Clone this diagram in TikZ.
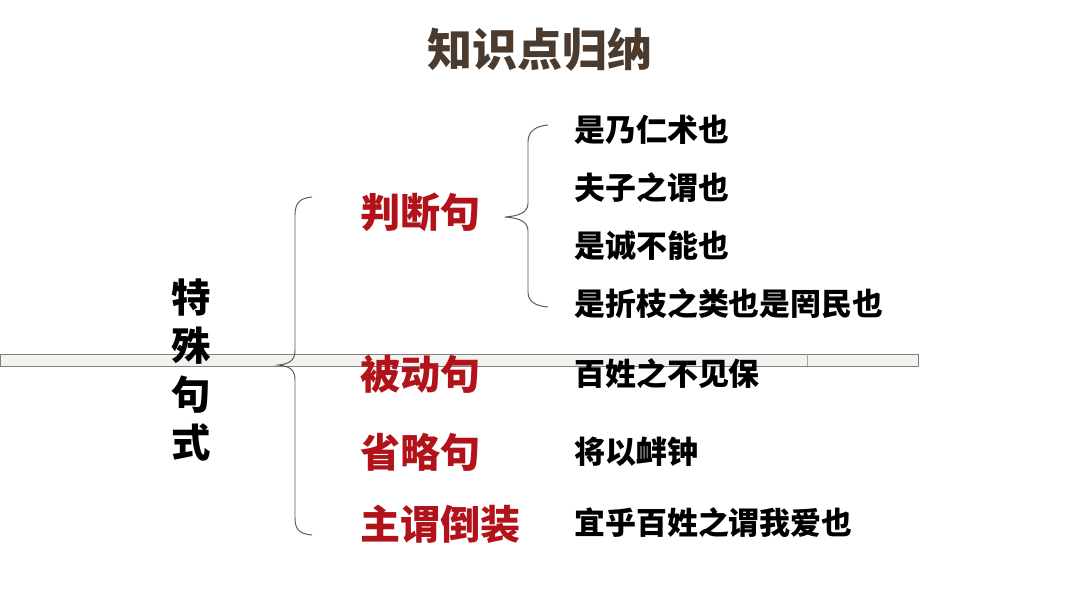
\documentclass[tikz,border=0pt]{standalone}
\usepackage{fontspec}
\newfontfamily\cjk{Noto Sans CJK SC}
\definecolor{titlebrown}{HTML}{4B3B2F}
\definecolor{labelred}{HTML}{B2131B}
\definecolor{bracegray}{HTML}{5A5A5A}
\definecolor{barfill}{HTML}{F4F2EF}
\tikzset{
  title/.style={font=\cjk\bfseries\fontsize{32}{36}\selectfont, text=titlebrown, inner sep=0pt},
  cat/.style={font=\cjk\bfseries\fontsize{28.5}{32}\selectfont, text=labelred, anchor=west, inner sep=0pt},
  item/.style={font=\cjk\bfseries\fontsize{22}{26}\selectfont, text=black, anchor=west, inner sep=0pt},
  vert/.style={font=\cjk\bfseries\fontsize{28}{34.5}\selectfont, text=black, align=center, inner sep=0pt},
  bracestyle/.style={draw=bracegray, line width=0.7pt},
}
\begin{document}
\begin{tikzpicture}[x=0.025cm,y=-0.025cm]
\useasboundingbox (0,0) rectangle (1080,608);
% horizontal bar
\draw[draw=gray, fill=barfill, line width=0.6pt] (0,354) rectangle (918,366);
\draw[draw=gray!70, line width=0.4pt] (807,354) -- (807,366);
% title
\node[title] (title) at (540,50) {知识点归纳};
% vertical label
\node[vert] (main) at (191,370) {特\\殊\\句\\式};
% left brace
\draw[bracestyle] (312,197) .. controls (300,198) and (295,203) .. (295,215)
  -- (295,350) .. controls (295,360) and (290,364) .. (278,365)
  .. controls (290,366) and (295,370) .. (295,380)
  -- (295,518) .. controls (295,530) and (300,534) .. (312,535);
% categories
\node[cat] (c1) at (360,212) {判断句};
\node[cat] (c2) at (360,374) {被动句};
\node[cat] (c3) at (360,452) {省略句};
\node[cat] (c4) at (360,524) {主谓倒装};
% right brace
\draw[bracestyle] (548,125) .. controls (536,126) and (528,131) .. (528,142)
  -- (528,203) .. controls (528,212) and (520,216) .. (505,217)
  .. controls (520,218) and (528,222) .. (528,231)
  -- (528,292) .. controls (528,302) and (536,306) .. (548,307);
% items
\node[item] (i1) at (574,130) {是乃仁术也};
\node[item] (i2) at (574,188) {夫子之谓也};
\node[item] (i3) at (574,246) {是诚不能也};
\node[item] (i4) at (574,304) {是折枝之类也是罔民也};
\node[item] (i5) at (574,374) {百姓之不见保};
\node[item] (i6) at (574,452) {将以衅钟};
\node[item] (i7) at (574,523) {宜乎百姓之谓我爱也};
\end{tikzpicture}
\end{document}
